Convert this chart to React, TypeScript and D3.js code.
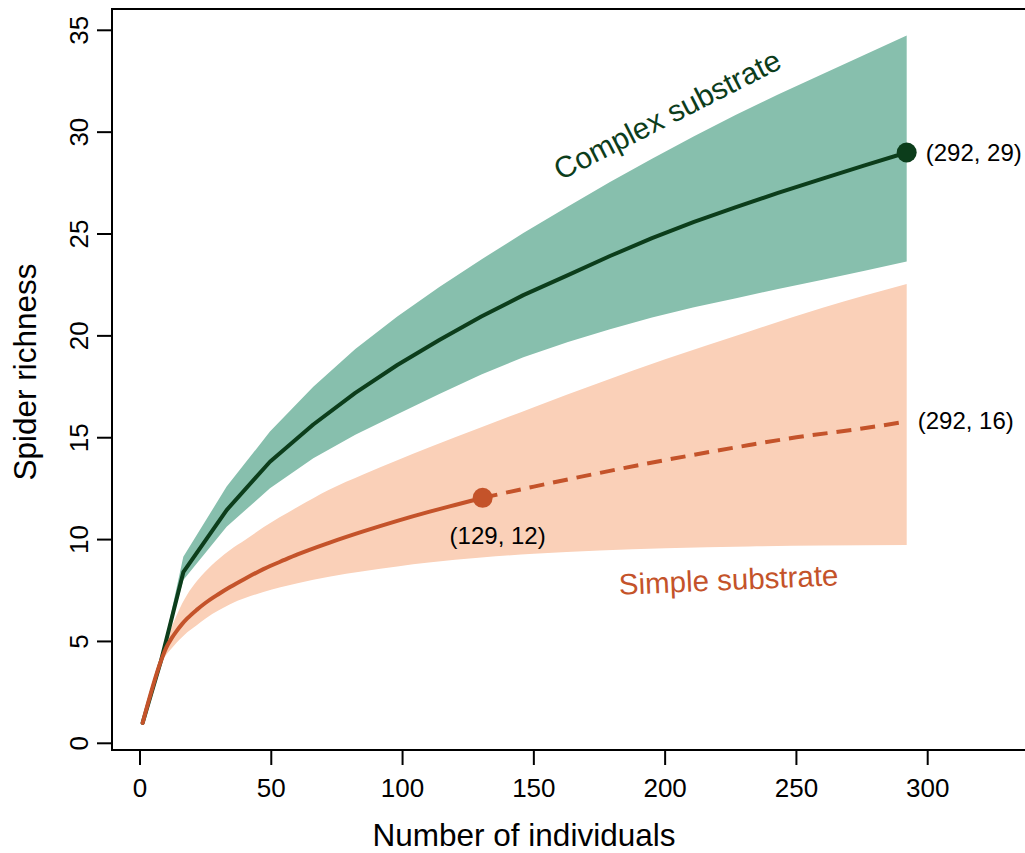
import React, { useEffect } from "react";
import * as d3 from "d3";

// complex substrate: rarefied up to the observed sample n = 292
const complexX = [1, 8, 16.5, 33, 49.5, 66, 82, 98, 114, 130, 146, 163, 179, 195, 211, 227, 243, 260, 276, 292];
const complexMean = [1, 4.05, 8.4, 11.45, 13.82, 15.65, 17.2, 18.57, 19.8, 20.95, 22.0, 22.98, 23.92, 24.8, 25.6, 26.32, 27.02, 27.72, 28.37, 29.0];
const complexUpper = [1, 4.1, 9.16, 12.6, 15.3, 17.5, 19.35, 20.95, 22.4, 23.75, 25.05, 26.35, 27.55, 28.7, 29.8, 30.85, 31.85, 32.85, 33.8, 34.75];
const complexLower = [1, 4.0, 8.02, 10.63, 12.52, 13.99, 15.15, 16.15, 17.15, 18.1, 18.95, 19.7, 20.33, 20.9, 21.4, 21.85, 22.3, 22.75, 23.2, 23.65];

// simple substrate: rarefied (solid) up to the observed sample, extrapolated (dashed) after
const simpleObsX = [1, 8, 10, 12, 14, 16, 18, 21.6, 25, 30, 34.3, 40, 47, 55, 60, 72, 85, 98, 110, 120, 130.5];
const simpleObsMean = [1, 4.05, 4.7, 5.15, 5.52, 5.85, 6.13, 6.55, 6.9, 7.33, 7.67, 8.08, 8.55, 9.0, 9.27, 9.84, 10.4, 10.92, 11.36, 11.7, 12.05];
const simpleExtX = [130.5, 150, 175, 200, 232, 250, 275, 292];
const simpleExtMean = [12.05, 12.6, 13.27, 13.9, 14.64, 15.02, 15.45, 15.8];
const simpleBandX = [8, 10, 12, 14, 16, 18, 21.6, 25, 30, 34.3, 40, 47, 60, 72, 85, 98, 110, 130, 150, 175, 200, 232, 260, 292];
const simpleUpper = [4.1, 5.0, 5.7, 6.3, 6.85, 7.3, 7.95, 8.45, 9.05, 9.49, 9.98, 10.6, 11.6, 12.45, 13.2, 13.9, 14.52, 15.52, 16.5, 17.7, 18.85, 20.22, 21.38, 22.55];
const simpleLower = [4.0, 4.35, 4.65, 4.95, 5.2, 5.45, 5.8, 6.13, 6.53, 6.83, 7.13, 7.43, 7.86, 8.18, 8.45, 8.68, 8.87, 9.12, 9.3, 9.46, 9.57, 9.66, 9.71, 9.73];

const xTicks = [0, 50, 100, 150, 200, 250, 300];
const yTicks = [0, 5, 10, 15, 20, 25, 30, 35];

const complexEnd = { x: 292, y: 29, label: "(292, 29)" };
const simpleRef = { x: 130.5, y: 12.05, label: "(129, 12)" };
const simpleEnd = { x: 292, y: 15.8, label: "(292, 16)" };

const FONT = "'Liberation Sans', Arial, Helvetica, sans-serif";
const GREEN_BAND = "#87BFAD";
const GREEN_LINE = "#0C3D1B";
const ORANGE_BAND = "#FAD0B8";
const ORANGE_LINE = "#C4532A";

const App = () => {
  useEffect(() => {
    document.body.style.margin = "0";
  }, []);

  const width = 1025;
  const height = 853;
  const box = { left: 112, top: 9, bottom: 750, right: 1025 };

  const x = d3.scaleLinear().domain([0, 300]).range([140, 927.7]);
  const y = d3.scaleLinear().domain([0, 35]).range([743.3, 30.3]);

  const zip = (xs: number[], ys: number[]) => xs.map((v, i) => [v, ys[i]] as [number, number]);

  const lineOf = (curve: d3.CurveFactory) =>
    d3
      .line<[number, number]>()
      .x((d) => x(d[0]))
      .y((d) => y(d[1]))
      .curve(curve);

  const bandOf = (xs: number[], lo: number[], hi: number[], curve: d3.CurveFactory) =>
    d3
      .area<number>()
      .x((d) => x(xs[d]))
      .y0((d) => y(lo[d]))
      .y1((d) => y(hi[d]))
      .curve(curve)(d3.range(xs.length)) as string;

  return (
    <svg width={width} height={height} style={{ display: "block", background: "#fff" }} fontFamily={FONT}>
      {/* confidence bands */}
      <path d={bandOf(complexX, complexLower, complexUpper, d3.curveLinear)} fill={GREEN_BAND} />
      <path d={bandOf(simpleBandX, simpleLower, simpleUpper, d3.curveMonotoneX)} fill={ORANGE_BAND} />

      {/* curves */}
      <path
        d={lineOf(d3.curveLinear)(zip(complexX, complexMean)) as string}
        fill="none"
        stroke={GREEN_LINE}
        strokeWidth={4}
        strokeLinejoin="round"
        strokeLinecap="round"
      />
      <path d={lineOf(d3.curveMonotoneX)(zip(simpleExtX, simpleExtMean)) as string} fill="none" stroke={ORANGE_LINE} strokeWidth={4} strokeDasharray="15,9" />
      <path d={lineOf(d3.curveMonotoneX)(zip(simpleObsX, simpleObsMean)) as string} fill="none" stroke={ORANGE_LINE} strokeWidth={4} strokeLinejoin="round" strokeLinecap="round" />

      <circle cx={x(complexEnd.x)} cy={y(complexEnd.y)} r={10} fill={GREEN_LINE} />
      <circle cx={x(simpleRef.x)} cy={y(simpleRef.y)} r={10} fill={ORANGE_LINE} />

      {/* point labels */}
      <text x={x(complexEnd.x) + 19} y={y(complexEnd.y) + 8} fontSize={24} fill="#000">
        {complexEnd.label}
      </text>
      <text x={x(simpleEnd.x) + 11} y={y(simpleEnd.y) + 8} fontSize={24} fill="#000">
        {simpleEnd.label}
      </text>
      <text x={x(simpleRef.x) + 15} y={y(simpleRef.y) + 46} fontSize={24} fill="#000" textAnchor="middle">
        {simpleRef.label}
      </text>

      {/* series labels */}
      <text transform="translate(672,124) rotate(-27)" fontSize={30} fill={GREEN_LINE} textAnchor="middle">
        Complex substrate
      </text>
      <text transform="translate(729,590) rotate(-2.5)" fontSize={29.5} fill={ORANGE_LINE} textAnchor="middle">
        Simple substrate
      </text>

      {/* frame */}
      <path
        d={`M${box.right},${box.top}H${box.left}V${box.bottom}H${box.right}`}
        fill="none"
        stroke="#000"
        strokeWidth={2}
      />

      {/* x axis */}
      {xTicks.map((t) => (
        <g key={`x${t}`}>
          <line x1={x(t)} x2={x(t)} y1={box.bottom} y2={box.bottom + 15} stroke="#000" strokeWidth={2} />
          <text x={x(t)} y={797} fontSize={26} textAnchor="middle">
            {t}
          </text>
        </g>
      ))}
      <text x={524} y={846} fontSize={31.5} textAnchor="middle">
        Number of individuals
      </text>

      {/* y axis */}
      {yTicks.map((t) => (
        <g key={`y${t}`}>
          <line x1={box.left - 15} x2={box.left} y1={y(t)} y2={y(t)} stroke="#000" strokeWidth={2} />
          <text transform={`translate(88,${y(t)}) rotate(-90)`} fontSize={26} textAnchor="middle">
            {t}
          </text>
        </g>
      ))}
      <text transform="translate(36,372) rotate(-90)" fontSize={31.5} textAnchor="middle">
        Spider richness
      </text>
    </svg>
  );
};

export default App;
